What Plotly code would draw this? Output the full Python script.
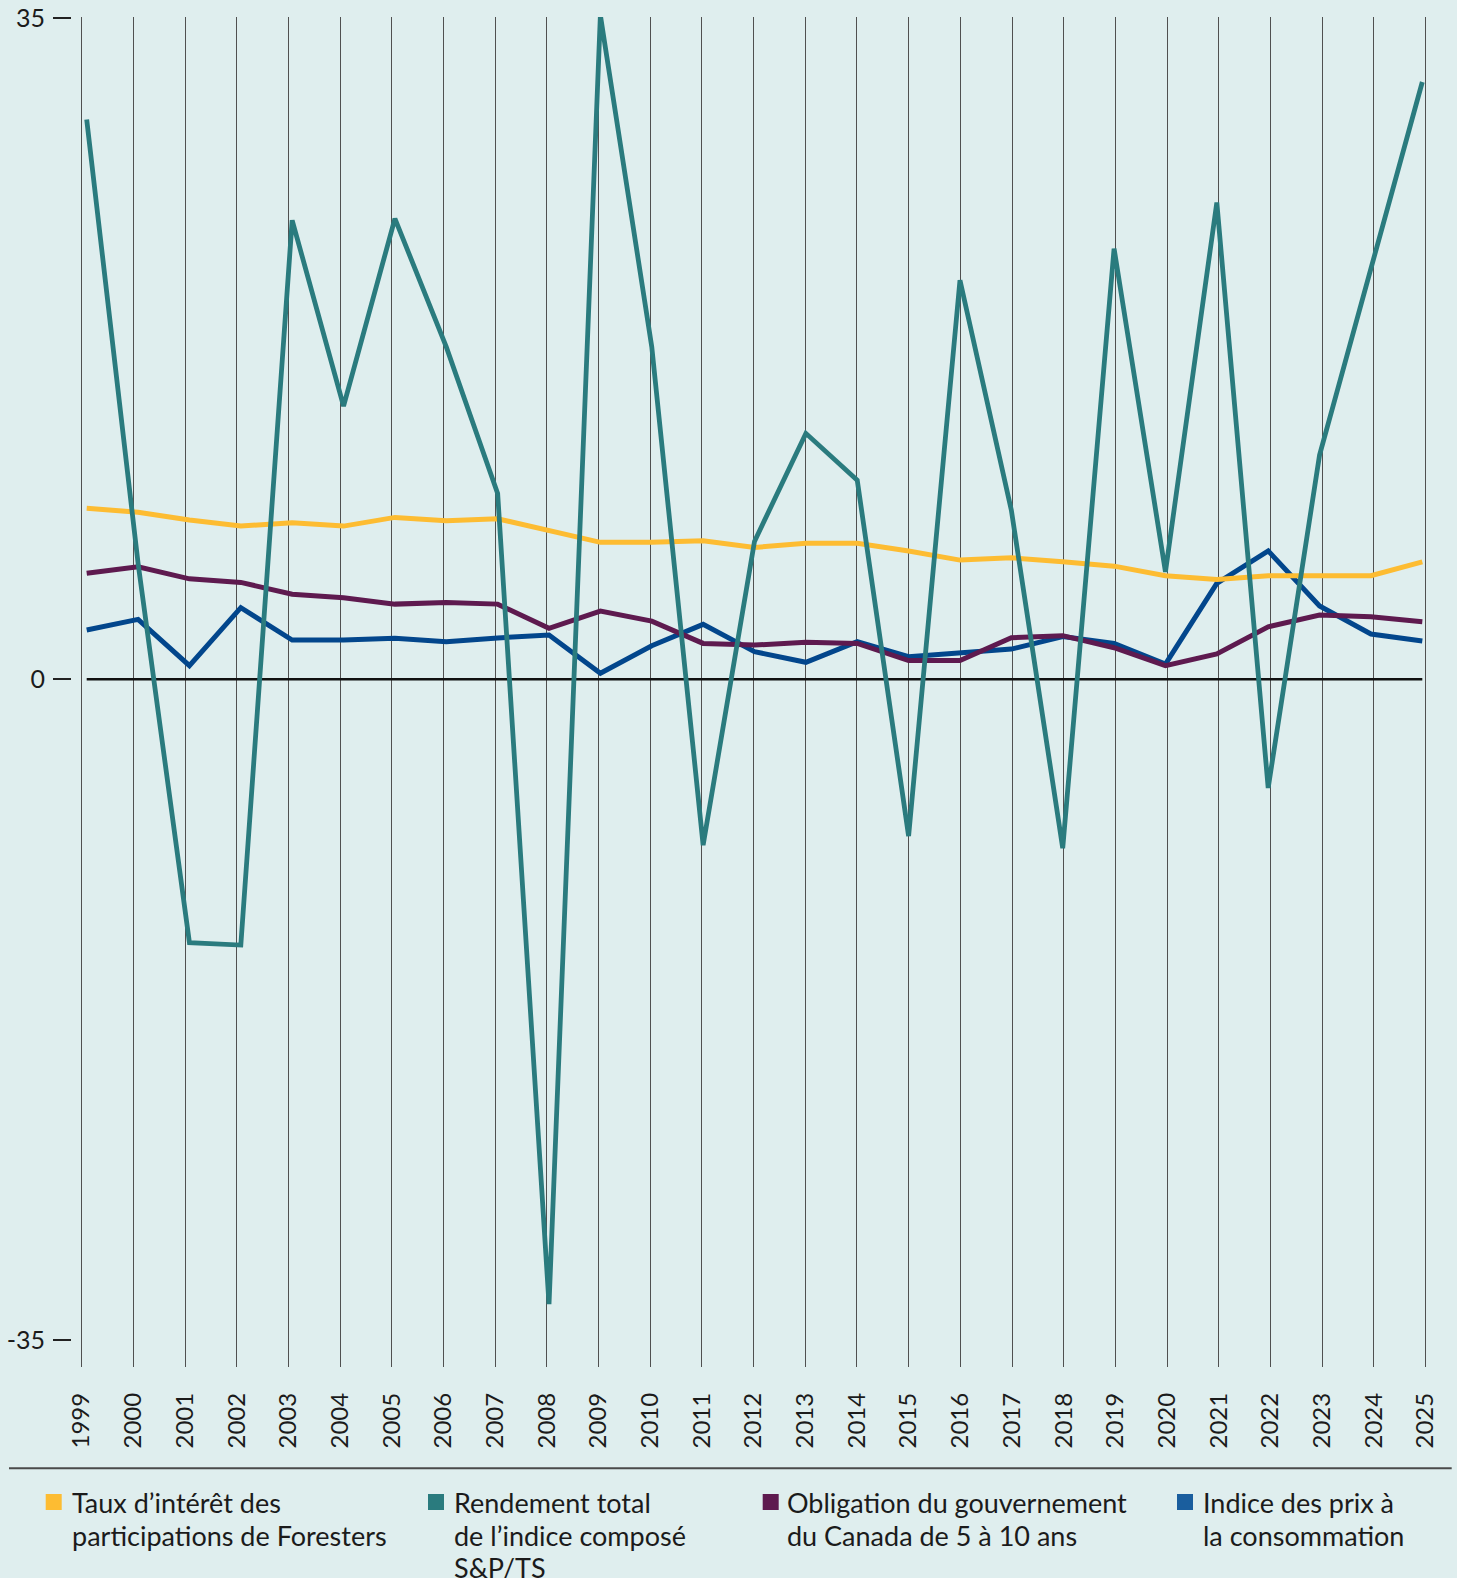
import plotly.graph_objects as go

# ---------------- data ----------------
years = list(range(1999, 2026))
year_labels = [str(y) for y in years]

foresters = [9.05, 8.84, 8.43, 8.11, 8.29, 8.11, 8.57, 8.39, 8.50,
             7.90, 7.25, 7.26, 7.33, 6.98, 7.20, 7.20,
             6.79, 6.31, 6.43, 6.22, 5.99, 5.48, 5.29, 5.48, 5.48, 5.48, 6.22]
tsx = [29.63, 6.14, -13.94, -14.07, 24.30, 14.46, 24.39, 17.60, 9.84,
       -33.08, 35.15, 17.60, -8.78, 7.30, 13.02, 10.54,
       -8.30, 21.13, 8.95, -8.94, 22.80, 5.69, 25.24, -5.75, 11.87, 21.66, 31.62]
bonds = [5.61, 5.96, 5.32, 5.13, 4.50, 4.32, 3.98, 4.07, 3.98,
         2.70, 3.61, 3.08, 1.90, 1.81, 1.96, 1.90,
         0.99, 0.99, 2.20, 2.31, 1.67, 0.72, 1.34, 2.78, 3.40, 3.31, 3.05]
cpi = [2.61, 3.17, 0.72, 3.79, 2.08, 2.08, 2.17, 1.99, 2.19,
       2.34, 0.32, 1.78, 2.91, 1.46, 0.90, 1.99,
       1.20, 1.43, 1.60, 2.26, 1.90, 0.80, 5.08, 6.80, 3.88, 2.40, 2.03]

y_tick_vals = [-35, 0, 35]
y_tick_text = ["-35", "0", "35"]

legend_lines = [
    ["Taux d’intérêt des", "participations de Foresters"],
    ["Rendement total", "de l’indice composé", "S&amp;P/TS"],
    ["Obligation du gouvernement", "du Canada de 5 à 10 ans"],
    ["Indice des prix à", "la consommation"],
]
names = ["<br>".join(l) for l in legend_lines]

# ---------------- style ----------------
BG = "#DFEEEE"
C_YEL = "#FDBC32"
C_TEAL = "#2A7B7E"
C_PUR = "#5E1A4F"
C_BLUE = "#02468C"
TXT = "#1B1B1B"
FONT = "Lato"

W, H = 1457, 1578
L, R, T, B = 72, 17, 17, 211
plot_w = W - L - R
plot_h = H - T - B


def px_x(px):
    return (px - L) / plot_w


def px_y(py):
    return (H - B - py) / plot_h


# grid (category) axis: first/last year pixel positions
g0, g1 = 81.7, 1425.5
g_per = (g1 - g0) / (years[-1] - years[0])
grid_range = [years[0] - (g0 - L) / g_per, years[-1] + (L + plot_w - g1) / g_per]
# data axis
d0, d1 = 86.7, 1422.3
d_per = (d1 - d0) / (years[-1] - years[0])
data_range = [years[0] - (d0 - L) / d_per, years[-1] + (L + plot_w - d1) / d_per]
# y axis: zero at 679.3 px, 18.89 px per unit
zero_px, ppu = 679.3, 18.89
y_range = [-(H - B - zero_px) / ppu, (zero_px - T) / ppu]


def data_to_grid(xv):
    px = d0 + (xv - years[0]) * d_per
    return years[0] + (px - g0) / g_per


fig = go.Figure()
# invisible carrier trace so the category (grid) axis is drawn
fig.add_trace(go.Scatter(x=years, y=[None] * len(years), xaxis="x", yaxis="y",
                         mode="lines", showlegend=False, hoverinfo="skip"))
series = [
    (cpi, C_BLUE, names[3]),
    (bonds, C_PUR, names[2]),
    (foresters, C_YEL, names[0]),
    (tsx, C_TEAL, names[1]),
]
for vals, col, nm in series:
    fig.add_trace(go.Scatter(
        x=years, y=vals, mode="lines", name=nm, xaxis="x2", yaxis="y",
        line=dict(color=col, width=5 if col != C_TEAL else 4.8),
        showlegend=False, cliponaxis=False, hoverinfo="x+y",
    ))

fig.update_layout(
    width=W, height=H,
    margin=dict(l=L, r=R, t=T, b=B, pad=0, autoexpand=False),
    paper_bgcolor=BG, plot_bgcolor=BG,
    font=dict(family=FONT, color=TXT, size=25),
    xaxis=dict(
        range=grid_range, tickmode="array", tickvals=years, ticktext=year_labels,
        tickangle=-90, showgrid=True, gridcolor="#505050", gridwidth=1.4,
        showline=False, zeroline=False, ticks="", ticklabelstandoff=20,
        automargin=False,
        tickfont=dict(size=24, color=TXT, family=FONT), fixedrange=True,
    ),
    xaxis2=dict(range=data_range, overlaying="x", anchor="y", visible=False,
                automargin=False, fixedrange=True),
    yaxis=dict(
        range=y_range, tickmode="array", tickvals=y_tick_vals, ticktext=y_tick_text,
        ticks="outside", ticklen=18, tickwidth=1.5, tickcolor="#222222",
        showgrid=False, zeroline=False, showline=False, ticklabelstandoff=3,
        automargin=False,
        tickfont=dict(size=25, color=TXT, family=FONT), fixedrange=True,
    ),
    showlegend=False,
)

# zero reference line (between gridlines and traces)
fig.add_shape(type="line", xref="x", yref="y",
              x0=data_to_grid(years[0]), x1=data_to_grid(years[-1]), y0=0, y1=0,
              line=dict(color="#111111", width=2.6), layer="between")

# separator line above legend
fig.add_shape(type="line", xref="paper", yref="paper",
              x0=px_x(9), x1=px_x(1451.7), y0=px_y(1468.3), y1=px_y(1468.3),
              line=dict(color="#4A4A4A", width=2))

# legend (squares + text lines)
legend_items = [
    (45.7, 69.7, legend_lines[0], C_YEL),
    (428.0, 452.0, legend_lines[1], C_TEAL),
    (762.7, 784.7, legend_lines[2], C_PUR),
    (1177.0, 1200.7, legend_lines[3], "#1A5E9E"),
]
for sq_x, tx_x, lines, col in legend_items:
    fig.add_shape(type="rect", xref="paper", yref="paper",
                  x0=px_x(sq_x), x1=px_x(sq_x + 16), y0=px_y(1510), y1=px_y(1494),
                  fillcolor=col, line=dict(width=0))
    for i, line_txt in enumerate(lines):
        fig.add_annotation(xref="paper", yref="paper", x=px_x(tx_x), y=px_y(1484.4 + 32.5 * i),
                           xanchor="left", yanchor="top", align="left", showarrow=False,
                           text=line_txt, font=dict(size=27, color=TXT, family=FONT))

fig.write_html("out.html", config={"displayModeBar": False},
               post_script="document.body.style.margin='0px';document.body.style.overflow='hidden';")
